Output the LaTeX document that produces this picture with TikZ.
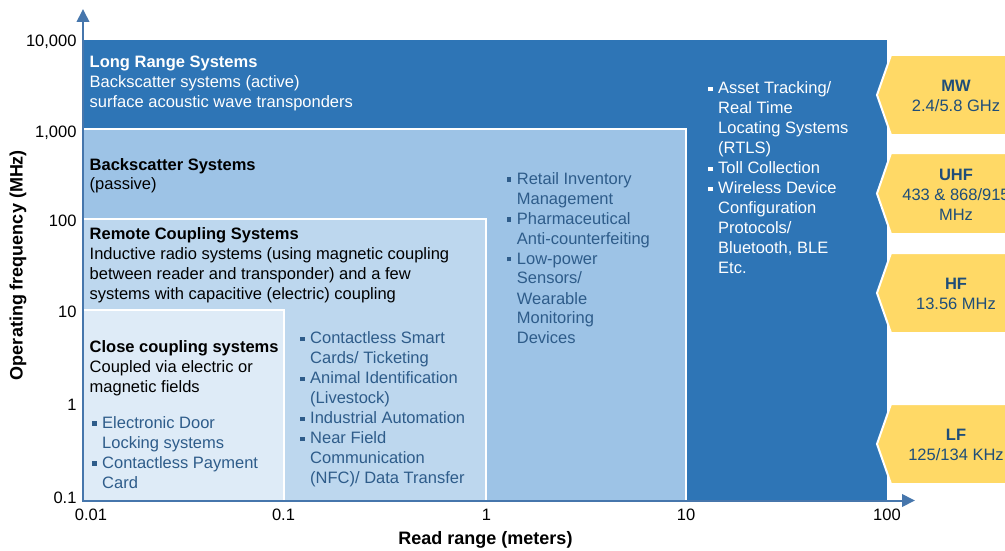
\documentclass[tikz,border=0pt]{standalone}
\usepackage{fontspec}
\setmainfont{Liberation Sans}
\usetikzlibrary{arrows.meta}
\definecolor{longcol}{HTML}{2E75B6}
\definecolor{backcol}{HTML}{9DC3E6}
\definecolor{remotecol}{HTML}{BDD7EE}
\definecolor{closecol}{HTML}{DEEBF7}
\definecolor{axiscol}{HTML}{4676AC}
\definecolor{bultext}{HTML}{2E5C8A}
\definecolor{chevcol}{HTML}{FFD966}
\definecolor{chevtext}{HTML}{1F4E79}
\newcommand\bsq{\makebox[10pt][l]{\rule[2.5pt]{4.5pt}{4.5pt}}}
\newcommand\ind{\hspace*{10pt}}
\newcommand\tl[1]{\begin{tabular}[t]{@{}l@{}}#1\end{tabular}}
\newcommand\tc[1]{\begin{tabular}[t]{@{}c@{}}#1\end{tabular}}
\begin{document}
\begin{tikzpicture}[x=1pt,y=-1pt,
  every node/.style={inner sep=0pt, font=\fontsize{16.5}{20}\selectfont},
  region/.style={draw=white, line width=1.5pt},
  txt/.style={anchor=base west},
  axis/.style={draw=axiscol, line width=2pt, -{Triangle[length=13pt,width=12.5pt]}},
  ytick/.style={anchor=base east},
  xtick/.style={anchor=base},
  axlabel/.style={font=\fontsize{18}{22}\selectfont\bfseries},
  chev/.style={fill=chevcol, draw=white, line width=2pt},
  chevtxt/.style={anchor=base, text=chevtext}]
\useasboundingbox (0,0) rectangle (1005,551);
\clip (0,0) rectangle (1005,551);

% regions
\fill[longcol] (84,39) rectangle (888,499.5);
\draw[region] (84,39) -| (888,499.5);
\fill[backcol] (84,129) rectangle (686,499.5);
\draw[region] (84,129) -| (686,499.5);
\fill[remotecol] (84,219) rectangle (486,499.5);
\draw[region] (84,219) -| (486,499.5);
\fill[closecol] (84,310) rectangle (284,499.5);
\draw[region] (84,310) -| (284,499.5);

% axes
\coordinate (O) at (83,500.5);
\coordinate (ytip) at (83,9);
\coordinate (xtip) at (915,500.5);
\draw[axis] (O) -- (ytip);
\draw[axis] ([xshift=-1pt]O) -- (xtip);

% tick labels
\node[ytick] (y4) at (76.7,47) {10,000};
\node[ytick] (y3) at (76.7,137) {1,000};
\node[ytick] (y2) at (76.7,226) {100};
\node[ytick] (y1) at (76.7,317) {10};
\node[ytick] (y0) at (76.7,410) {1};
\node[ytick] (ym) at (76.7,503) {0.1};
\node[xtick] (x0) at (91,520) {0.01};
\node[xtick] (x1) at (283.5,520) {0.1};
\node[xtick] (x2) at (486.5,520) {1};
\node[xtick] (x3) at (686,520) {10};
\node[xtick] (x4) at (887,520) {100};

\node[axlabel] (xlab) at (485.5,540) {Read range (meters)};
\node[axlabel, rotate=90] (ylab) at (18,265) {Operating frequency (MHz)};

% region texts
\node[txt, text=white] (longt) at (89.5,68) {\tl{\textbf{Long Range Systems}\\Backscatter systems (active)\\surface acoustic wave transponders}};
\node[txt] (backt) at (89.5,170) {\tl{\textbf{Backscatter Systems}\\(passive)}};
\node[txt] (remotet) at (89.5,239) {\tl{\textbf{Remote Coupling Systems}\\Inductive radio systems (using magnetic coupling\\between reader and transponder) and a few\\systems with capacitive (electric) coupling}};
\node[txt] (closet) at (89.5,352) {\tl{\textbf{Close coupling systems}\\Coupled via electric or\\magnetic fields}};

% bullet lists
\node[txt, text=bultext] (closeb) at (92,428) {\tl{\bsq Electronic Door\\\ind Locking systems\\\bsq Contactless Payment\\\ind Card}};
\node[txt, text=bultext] (remoteb) at (300,343.5) {\tl{\bsq Contactless Smart\\\ind Cards/ Ticketing\\\bsq Animal Identification\\\ind (Livestock)\\\bsq Industrial Automation\\\bsq Near Field\\\ind Communication\\\ind (NFC)/ Data Transfer}};
\node[txt, text=bultext] (backb) at (506.7,184) {\tl{\bsq Retail Inventory\\\ind Management\\\bsq Pharmaceutical\\\ind Anti-counterfeiting\\\bsq Low-power\\\ind Sensors/\\\ind Wearable\\\ind Monitoring\\\ind Devices}};
\node[txt, text=white] (longb) at (708,94) {\tl{\bsq Asset Tracking/\\\ind Real Time\\\ind Locating Systems\\\ind (RTLS)\\\bsq Toll Collection\\\bsq Wireless Device\\\ind Configuration\\\ind Protocols/\\\ind Bluetooth, BLE\\\ind Etc.}};

% frequency band chevrons
\draw[chev] (891,55) -- (1030,55) -- (1030,135) -- (891,135) -- (877,95) -- cycle;
\draw[chev] (891,153) -- (1030,153) -- (1030,234) -- (891,234) -- (877,193.5) -- cycle;
\draw[chev] (891,253) -- (1030,253) -- (1030,333) -- (891,333) -- (877,293) -- cycle;
\draw[chev] (891,404) -- (1030,404) -- (1030,484) -- (891,484) -- (877,444) -- cycle;
\node[chevtxt] (mw) at (956,91.5) {\tc{\textbf{MW}\\2.4/5.8 GHz}};
\node[chevtxt] (uhf) at (956,180) {\tc{\textbf{UHF}\\433 \& 868/915\\MHz}};
\node[chevtxt] (hf) at (956,289) {\tc{\textbf{HF}\\13.56 MHz}};
\node[chevtxt] (lf) at (956,440.5) {\tc{\textbf{LF}\\125/134 KHz}};
\end{tikzpicture}
\end{document}
